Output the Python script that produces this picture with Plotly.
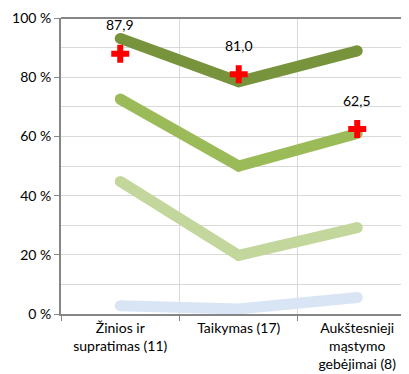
import plotly.graph_objects as go

categories = ["Žinios ir<br>supratimas (11)", "Taikymas (17)", "Aukštesnieji<br>mąstymo<br>gebėjimai (8)"]

level_top = [93.1, 78.5, 88.9]
level_upper = [72.6, 50.0, 61.0]
level_basic = [44.8, 19.8, 29.2]
level_low = [2.8, 1.7, 5.6]

result = [87.9, 81.0, 62.5]

colors = ["#77933C", "#9BBB59", "#C3D69B", "#D9E5F4"]
font = "Lato, Open Sans, sans-serif"

fig = go.Figure()

for vals, col in zip([level_low, level_basic, level_upper, level_top], colors[::-1]):
    fig.add_trace(go.Scatter(
        x=categories, y=vals,
        mode="lines+markers",
        line=dict(color=col, width=11),
        marker=dict(color=col, size=11),
        hoverinfo="skip",
        showlegend=False
    ))

fig.add_trace(go.Scatter(
    x=categories, y=result,
    mode="markers",
    marker=dict(symbol="cross", color="#FF0000", size=15, line=dict(width=0)),
    showlegend=False
))

for c, v in zip(categories, result):
    fig.add_annotation(
        x=c, y=v, text=f"{v:.1f}".replace(".", ","),
        showarrow=False, yshift=29,
        font=dict(family=font, size=14, color="#000000")
    )

# page has an 8px body margin, so the figure is a bit smaller than the window
fig.update_layout(
    width=401, height=366,
    margin=dict(l=53, r=0, t=10, b=60),
    plot_bgcolor="white", paper_bgcolor="white",
    font=dict(family=font, size=14, color="#000000")
)

fig.update_xaxes(
    type="category",
    range=[-0.5, 2.437],
    tickson="boundaries",
    showgrid=True, gridcolor="#D9D9D9", gridwidth=1,
    ticks="outside", ticklen=5, tickcolor="#868686",
    showline=True, linecolor="#868686", linewidth=2,
    mirror=False, automargin=False
)

fig.update_yaxes(
    range=[0, 100], dtick=20,
    ticksuffix=" %",
    showgrid=True, gridcolor="#D9D9D9", gridwidth=1,
    minor=dict(dtick=10, showgrid=True, gridcolor="#D9D9D9"),
    ticks="outside", ticklen=5, tickcolor="#868686",
    showline=True, linecolor="#868686", linewidth=2,
    zeroline=False, automargin=False
)

fig.add_shape(type="line", xref="paper", yref="paper",
              x0=1, x1=0, y0=1, y1=1,
              line=dict(color="#868686", width=2))

fig.write_html("out.html")
